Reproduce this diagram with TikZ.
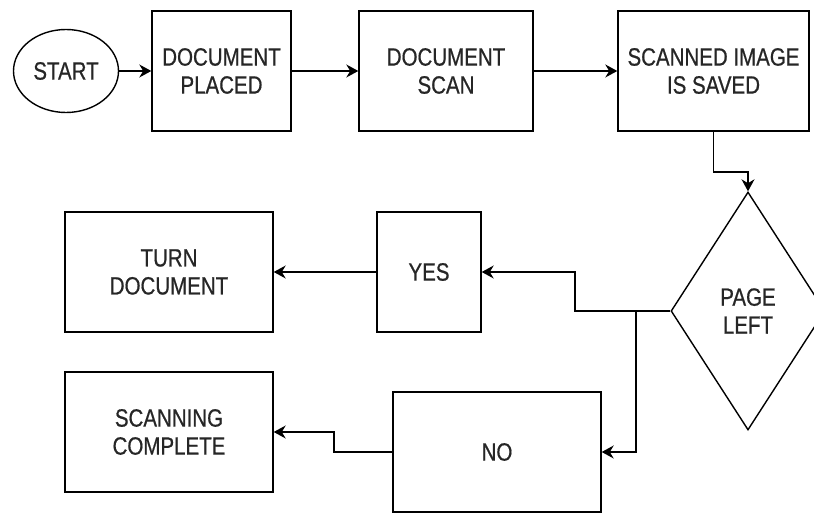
\documentclass[tikz,border=0pt]{standalone}
\usepackage{fontspec}
\usepackage{tikz}
\usetikzlibrary{arrows.meta}
\usetikzlibrary{shapes.geometric}
\usetikzlibrary{positioning}
\newfontfamily\flowfont[FakeStretch=0.82, FakeBold=0.6]{Liberation Sans}
\tikzset{box/.style = {draw, rectangle, line width=1.4pt, inner sep=0pt,
                       align=center, text=black!85, font=\flowfont\fontsize{25}{28}\selectfont},
         flow/.style = {line width=1.4pt, -{Stealth[length=12pt,width=13pt]}}}

\begin{document}
\begin{tikzpicture}[x=1pt, y=-1pt]
      \useasboundingbox (0, 0) rectangle (814, 513);

      \node [box, ellipse, minimum width=105pt, minimum height=83pt] (start) at (66, 71) {START};
      \node [box, minimum width=139pt, minimum height=120pt] (placed) at (221.5, 71) {DOCUMENT\\PLACED};
      \node [box, minimum width=174pt, minimum height=120pt] (scan) at (446, 71) {DOCUMENT\\SCAN};
      \node [box, minimum width=191pt, minimum height=120pt] (saved) at (713.5, 71) {SCANNED IMAGE\\IS SAVED};
      \node [box, diamond, minimum width=154pt, minimum height=238pt] (page) at (748, 311) {PAGE\\LEFT};
      \node [box, minimum width=104pt, minimum height=120pt] (yes) at (429, 272) {YES};
      \node [box, minimum width=208pt, minimum height=120pt] (turn) at (169, 272) {TURN\\DOCUMENT};
      \node [box, minimum width=208pt, minimum height=120pt] (no) at (497, 452) {NO};
      \node [box, minimum width=208pt, minimum height=120pt] (complete) at (169, 432) {SCANNING\\COMPLETE};

      \coordinate (bend) at (748, 172);
      \coordinate (kneeY) at (575, 311);
      \coordinate (split) at (636, 311);
      \coordinate (kneeN) at (334, 452);

      \draw [flow] (start) -- (placed);
      \draw [flow] (placed) -- (scan);
      \draw [flow] (scan) -- (saved);
      \draw [flow] (saved.south) |- (bend) -- (page.north);
      \draw [flow] (page.west) -- (kneeY) |- (yes.east);
      \draw [flow] (split) |- (no.east);
      \draw [flow] (yes) -- (turn);
      \draw [flow] (no.west) -- (kneeN) |- (complete.east);
    \end{tikzpicture}
\end{document}
